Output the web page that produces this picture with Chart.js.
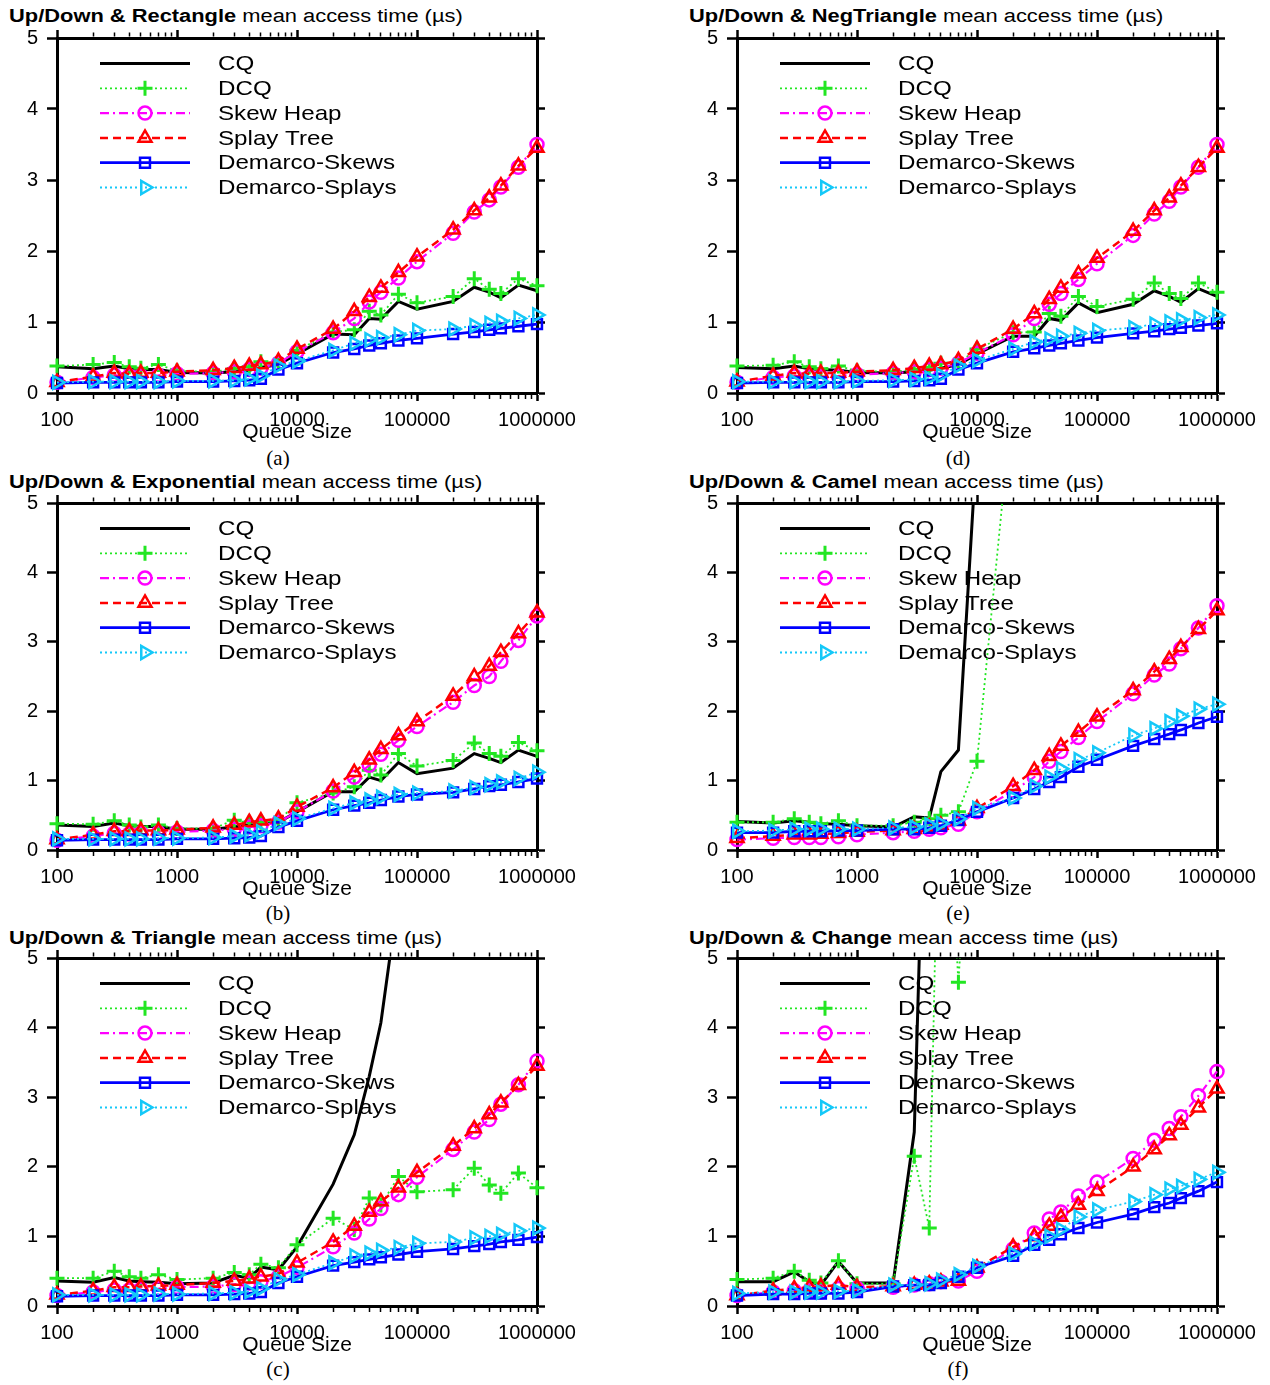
<!DOCTYPE html>
<html lang="en">
<head>
<meta charset="UTF-8">
<title>Up/Down mean access time</title>
<script src="https://cdn.jsdelivr.net/npm/chart.js@4"></script>
<style>
  body { margin: 0; background: #fff; width: 1270px; height: 1385px; position: relative; overflow: hidden; }
  .ttl { position: absolute; font: 18px "Liberation Sans", Arial, sans-serif; line-height: 20px; white-space: nowrap; color: #000;
         transform: scaleX(1.215); transform-origin: left center; }
  .cap { position: absolute; width: 60px; text-align: center; font: 21px "Liberation Serif", "Times New Roman", serif; line-height: 22px; color: #000; }
  canvas { position: absolute; }
</style>
</head>
<body>
<script>
// queue sizes and decade labels
const sizes = [100, 200, 300, 400, 500, 700, 1000, 2000, 3000, 4000, 5000, 7000, 10000, 20000, 30000, 40000, 50000, 70000,
               100000, 200000, 300000, 400000, 500000, 700000, 1000000];
const decades = [100, 1000, 10000, 100000, 1000000];
const yTicks = [0, 1, 2, 3, 4, 5];

// (a) Rectangle
const rectCQ      = [0.37,0.34,0.38,0.34,0.33,0.33,0.29,0.28,0.30,0.32,0.36,0.40,0.55,0.83,0.82,1.05,1.04,1.29,1.18,1.29,1.49,1.42,1.34,1.52,1.44];
const rectDCQ     = [0.38,0.40,0.43,0.37,0.35,0.40,0.31,0.30,0.34,0.37,0.44,0.42,0.60,0.86,0.89,1.15,1.10,1.39,1.27,1.36,1.61,1.46,1.40,1.61,1.51];
const rectSkew    = [0.15,0.22,0.25,0.24,0.24,0.25,0.27,0.28,0.30,0.33,0.35,0.42,0.58,0.85,1.05,1.28,1.42,1.62,1.85,2.25,2.55,2.72,2.90,3.18,3.50];
const rectSplay   = [0.15,0.23,0.28,0.27,0.28,0.28,0.30,0.32,0.35,0.38,0.40,0.45,0.62,0.90,1.15,1.35,1.48,1.70,1.92,2.30,2.57,2.75,2.92,3.20,3.45];
const rectDSkews  = [0.14,0.15,0.15,0.15,0.15,0.15,0.16,0.16,0.17,0.18,0.20,0.33,0.42,0.57,0.62,0.67,0.70,0.74,0.77,0.83,0.86,0.89,0.91,0.94,0.97];
const rectDSplays = [0.15,0.16,0.16,0.16,0.16,0.16,0.17,0.17,0.18,0.20,0.24,0.38,0.45,0.60,0.70,0.75,0.78,0.82,0.88,0.90,0.95,0.98,1.01,1.05,1.10];

// (d) NegTriangle
const negCQ      = [0.36,0.34,0.38,0.34,0.33,0.32,0.29,0.28,0.30,0.32,0.35,0.40,0.55,0.80,0.80,1.05,1.02,1.27,1.13,1.25,1.44,1.36,1.28,1.47,1.36];
const negDCQ     = [0.38,0.39,0.44,0.37,0.34,0.38,0.31,0.30,0.33,0.36,0.42,0.42,0.62,0.85,0.86,1.12,1.08,1.36,1.22,1.32,1.55,1.40,1.33,1.55,1.42];
const negSkew    = [0.15,0.22,0.24,0.23,0.23,0.24,0.26,0.28,0.30,0.33,0.35,0.42,0.56,0.82,1.05,1.25,1.40,1.60,1.82,2.22,2.52,2.70,2.90,3.18,3.50];
const negSplay   = [0.16,0.24,0.28,0.27,0.28,0.28,0.30,0.32,0.35,0.38,0.40,0.46,0.62,0.90,1.12,1.32,1.48,1.68,1.90,2.28,2.57,2.75,2.92,3.18,3.45];
const negDSkews  = [0.14,0.15,0.15,0.15,0.15,0.15,0.16,0.16,0.17,0.18,0.20,0.33,0.42,0.58,0.63,0.67,0.70,0.74,0.78,0.84,0.87,0.90,0.92,0.95,0.98];
const negDSplays = [0.16,0.16,0.16,0.16,0.16,0.16,0.17,0.18,0.19,0.21,0.25,0.38,0.46,0.62,0.72,0.76,0.80,0.84,0.88,0.92,0.97,1.00,1.03,1.06,1.10];

// (b) Exponential
const expCQ      = [0.36,0.34,0.39,0.35,0.34,0.34,0.30,0.30,0.33,0.36,0.38,0.40,0.55,0.84,0.84,1.05,1.00,1.26,1.10,1.18,1.39,1.32,1.26,1.44,1.35];
const expDCQ     = [0.38,0.37,0.42,0.36,0.33,0.36,0.31,0.31,0.43,0.40,0.40,0.42,0.68,0.82,0.91,1.15,1.08,1.39,1.21,1.29,1.54,1.39,1.35,1.55,1.43];
const expSkew    = [0.14,0.20,0.24,0.23,0.24,0.25,0.26,0.28,0.30,0.33,0.35,0.40,0.55,0.85,1.05,1.22,1.38,1.58,1.78,2.13,2.37,2.50,2.72,3.02,3.37];
const expSplay   = [0.15,0.22,0.27,0.27,0.28,0.28,0.29,0.32,0.36,0.40,0.42,0.45,0.62,0.90,1.12,1.30,1.45,1.65,1.85,2.22,2.50,2.65,2.85,3.12,3.42];
const expDSkews  = [0.14,0.15,0.15,0.15,0.15,0.15,0.16,0.16,0.17,0.18,0.20,0.33,0.42,0.58,0.64,0.68,0.72,0.77,0.80,0.83,0.88,0.92,0.94,0.98,1.03];
const expDSplays = [0.16,0.16,0.16,0.16,0.16,0.17,0.17,0.18,0.20,0.22,0.26,0.38,0.45,0.60,0.68,0.72,0.76,0.80,0.82,0.85,0.90,0.94,0.98,1.03,1.12];

// (e) Camel
const camCQ      = [0.41,0.39,0.42,0.40,0.38,0.37,0.35,0.33,0.48,0.46,1.13,1.44,5.90,15.0,20.0,25.0,30.0,35.0,40.0,45.0,50.0,55.0,60.0,65.0,70.0];
const camDCQ     = [0.40,0.40,0.45,0.40,0.38,0.42,0.35,0.35,0.40,0.45,0.50,0.55,1.28,6.60,12.0,15.0,18.0,21.0,24.0,28.0,32.0,36.0,40.0,44.0,48.0];
const camSkew    = [0.15,0.17,0.18,0.18,0.18,0.19,0.22,0.25,0.27,0.30,0.32,0.37,0.55,0.85,1.05,1.28,1.42,1.62,1.85,2.25,2.52,2.68,2.90,3.20,3.52];
const camSplay   = [0.17,0.20,0.22,0.22,0.23,0.24,0.26,0.28,0.30,0.33,0.36,0.42,0.60,0.92,1.15,1.35,1.50,1.70,1.92,2.30,2.57,2.75,2.92,3.18,3.45];
const camDSkews  = [0.25,0.25,0.27,0.27,0.27,0.28,0.28,0.30,0.30,0.32,0.35,0.43,0.55,0.75,0.88,0.98,1.05,1.20,1.30,1.50,1.60,1.67,1.73,1.83,1.92];
const camDSplays = [0.27,0.28,0.30,0.30,0.30,0.30,0.30,0.32,0.33,0.36,0.38,0.45,0.60,0.75,0.92,1.05,1.17,1.30,1.40,1.65,1.75,1.85,1.93,2.03,2.10];

// (c) Triangle
const triCQ      = [0.36,0.34,0.41,0.36,0.35,0.34,0.32,0.33,0.44,0.40,0.56,0.52,0.85,1.75,2.46,3.30,4.07,5.90,9.00,14.0,18.0,22.0,26.0,32.0,40.0];
const triDCQ     = [0.40,0.40,0.50,0.42,0.40,0.45,0.38,0.40,0.48,0.45,0.60,0.55,0.88,1.26,1.10,1.55,1.45,1.86,1.64,1.67,1.98,1.74,1.62,1.91,1.70];
const triSkew    = [0.15,0.20,0.23,0.23,0.24,0.25,0.27,0.28,0.31,0.33,0.35,0.42,0.55,0.85,1.05,1.25,1.40,1.60,1.85,2.25,2.50,2.68,2.90,3.18,3.52];
const triSplay   = [0.16,0.22,0.27,0.27,0.28,0.29,0.30,0.33,0.36,0.39,0.42,0.46,0.62,0.92,1.15,1.35,1.50,1.70,1.92,2.30,2.55,2.75,2.92,3.17,3.45];
const triDSkews  = [0.14,0.15,0.15,0.15,0.15,0.15,0.16,0.16,0.17,0.18,0.20,0.33,0.42,0.58,0.63,0.67,0.70,0.74,0.78,0.82,0.86,0.89,0.92,0.95,0.99];
const triDSplays = [0.16,0.16,0.16,0.16,0.16,0.17,0.17,0.18,0.19,0.21,0.25,0.38,0.45,0.62,0.72,0.76,0.80,0.84,0.90,0.92,0.98,1.00,1.03,1.08,1.12];

// (f) Change
const chgCQ      = [0.35,0.35,0.49,0.35,0.30,0.64,0.33,0.33,2.50,10.0,15.0,20.0,25.0,30.0,35.0,40.0,45.0,50.0,55.0,60.0,65.0,70.0,75.0,80.0,85.0];
const chgDCQ     = [0.38,0.40,0.50,0.37,0.33,0.65,0.32,0.32,2.15,1.12,9.00,4.65,9.00,14.0,18.0,22.0,26.0,30.0,34.0,38.0,42.0,46.0,50.0,54.0,58.0];
const chgSkew    = [0.15,0.20,0.22,0.22,0.20,0.25,0.25,0.27,0.30,0.32,0.35,0.36,0.50,0.82,1.05,1.25,1.35,1.58,1.78,2.12,2.38,2.55,2.72,3.02,3.37];
const chgSplay   = [0.15,0.22,0.25,0.27,0.28,0.30,0.27,0.28,0.30,0.32,0.35,0.36,0.55,0.85,1.00,1.15,1.28,1.45,1.65,2.00,2.25,2.45,2.60,2.85,3.12];
const chgDSkews  = [0.15,0.17,0.17,0.18,0.18,0.18,0.20,0.28,0.30,0.30,0.33,0.42,0.55,0.72,0.88,0.95,1.03,1.12,1.20,1.32,1.42,1.48,1.55,1.65,1.78];
const chgDSplays = [0.18,0.20,0.20,0.20,0.20,0.21,0.22,0.30,0.30,0.32,0.37,0.45,0.57,0.75,0.90,1.00,1.10,1.28,1.38,1.50,1.60,1.68,1.72,1.82,1.92];

const panels = [
  { tag: '(a)', name: 'Rectangle',   col: 0, row: 0, series: [rectCQ, rectDCQ, rectSkew, rectSplay, rectDSkews, rectDSplays] },
  { tag: '(d)', name: 'NegTriangle', col: 1, row: 0, series: [negCQ, negDCQ, negSkew, negSplay, negDSkews, negDSplays] },
  { tag: '(b)', name: 'Exponential', col: 0, row: 1, series: [expCQ, expDCQ, expSkew, expSplay, expDSkews, expDSplays] },
  { tag: '(e)', name: 'Camel',       col: 1, row: 1, series: [camCQ, camDCQ, camSkew, camSplay, camDSkews, camDSplays] },
  { tag: '(c)', name: 'Triangle',    col: 0, row: 2, series: [triCQ, triDCQ, triSkew, triSplay, triDSkews, triDSplays] },
  { tag: '(f)', name: 'Change',      col: 1, row: 2, series: [chgCQ, chgDCQ, chgSkew, chgSplay, chgDSkews, chgDSplays] },
];

// line / marker look of each queue
const styles = [
  { label: 'CQ',             borderColor: '#000000', borderWidth: 3,   pointRadius: 0 },
  { label: 'DCQ',            borderColor: '#22e622', borderWidth: 1.8, borderDash: [2, 3], pointStyle: 'cross', pointRadius: 7.5, pointBorderWidth: 3 },
  { label: 'Skew Heap',      borderColor: '#ff00ff', borderWidth: 2.2, borderDash: [9, 4, 2, 4], pointStyle: 'circle', pointRadius: 6.5, pointBorderWidth: 2.5 },
  { label: 'Splay Tree',     borderColor: '#ff0000', borderWidth: 2.5, borderDash: [8, 5], pointStyle: 'triangle', pointRadius: 7.5, pointBorderWidth: 2.5 },
  { label: 'Demarco-Skews',  borderColor: '#0000ff', borderWidth: 2.8, pointStyle: 'rect', pointRadius: 7, pointBorderWidth: 2.5 },
  { label: 'Demarco-Splays', borderColor: '#14c8f8', borderWidth: 1.8, borderDash: [2, 3], pointStyle: 'triangle', pointRotation: 90, pointRadius: 7.5, pointBorderWidth: 2.5 },
];

// geometry of the 2x3 grid
const colPlotLeft = [57, 737];
const colTitleLeft = [9, 689];
const colCaption = [278, 958];
const rowGeom = [
  { top: 38,  bottom: 393,  title: 16,  cap: 458 },
  { top: 503, bottom: 850,  title: 482, cap: 913 },
  { top: 958, bottom: 1306, title: 938, cap: 1369 },
];
const TOP_H = 24, BOTTOM_H = 50, LEFT_W = 57, RIGHT_W = 50, PLOT_W = 480;

// x ticks: every 1..9 step inside each decade
const xTicks = [];
decades.slice(0, -1).forEach(d => { for (let m = 1; m < 10; m++) xTicks.push(d * m); });
xTicks.push(decades[decades.length - 1]);
const isDecade = v => decades.includes(v);

const FONT = '"Liberation Sans", Arial, sans-serif';

// legend drawn inside the plot like gnuplot does: line + marker + text
const lineLegend = {
  id: 'lineLegend',
  beforeDatasetsDraw(chart) {
    const { ctx, chartArea: a } = chart;
    chart.data.datasets.forEach((ds, i) => {
      const y = a.top + 25.5 + i * 24.8;
      ctx.save();
      ctx.strokeStyle = ds.borderColor;
      ctx.lineWidth = ds.borderWidth;
      ctx.setLineDash(ds.borderDash || []);
      ctx.beginPath();
      ctx.moveTo(a.left + 43, y);
      ctx.lineTo(a.left + 133, y);
      ctx.stroke();
      ctx.setLineDash([]);
      if (ds.pointRadius > 0 && Chart.helpers && Chart.helpers.drawPoint) {
        ctx.lineWidth = ds.pointBorderWidth;
        ctx.fillStyle = 'rgba(0,0,0,0)';
        Chart.helpers.drawPoint(ctx, {
          pointStyle: ds.pointStyle, rotation: ds.pointRotation || 0,
          radius: ds.pointRadius, borderWidth: ds.pointBorderWidth
        }, a.left + 88, y);
      }
      ctx.fillStyle = '#000';
      ctx.font = '21px ' + FONT;
      ctx.textBaseline = 'middle';
      ctx.translate(a.left + 161, y);
      ctx.scale(1.15, 1);
      ctx.fillText(ds.label, 0, 1);
      ctx.restore();
    });
  }
};

function xAxis(position) {
  const bottom = position === 'bottom';
  return {
    type: 'logarithmic', position, min: 100, max: 1000000,
    afterBuildTicks: s => { s.ticks = xTicks.map(v => ({ value: v, major: isDecade(v) })); },
    afterFit: s => { s.height = bottom ? BOTTOM_H : TOP_H; },
    ticks: {
      display: bottom, autoSkip: false, maxRotation: 0, minRotation: 0, padding: 7, color: '#000',
      font: { family: FONT, size: 20 },
      callback: v => isDecade(v) ? String(v) : ''
    },
    grid: {
      drawOnChartArea: false, drawTicks: true, tickLength: 8, tickColor: '#000',
      tickWidth: c => (c.tick && isDecade(c.tick.value)) ? 2.5 : 1.5,
      // minor ticks are half length, kept next to the frame
      tickBorderDash: c => (c.tick && isDecade(c.tick.value)) ? [] : (bottom ? [4, 40] : [0, 2.5, 4, 40])
    },
    border: { display: true, color: '#000', width: 3 },
    title: {
      display: bottom, text: 'Queue Size', color: '#000', padding: 0,
      font: { family: FONT, size: 21, lineHeight: 1 }
    }
  };
}

function yAxis(position) {
  const left = position === 'left';
  return {
    type: 'linear', position, min: yTicks[0], max: yTicks[yTicks.length - 1],
    afterFit: s => { s.width = left ? LEFT_W : RIGHT_W; },
    ticks: { display: left, stepSize: 1, padding: 9, color: '#000', font: { family: FONT, size: 20 } },
    grid: { drawOnChartArea: false, drawTicks: true, tickLength: left ? 10 : 8, tickColor: '#000', tickWidth: 2.5 },
    border: { display: true, color: '#000', width: 3 }
  };
}

panels.forEach(p => {
  const g = rowGeom[p.row];

  const title = document.createElement('div');
  title.className = 'ttl';
  title.style.left = colTitleLeft[p.col] + 'px';
  title.style.top = (g.title - 10) + 'px';
  title.innerHTML = '<b>Up/Down &amp; ' + p.name + '</b> mean access time (\u00b5s)';
  document.body.appendChild(title);

  const cap = document.createElement('div');
  cap.className = 'cap';
  cap.style.left = (colCaption[p.col] - 30) + 'px';
  cap.style.top = (g.cap - 11) + 'px';
  cap.textContent = p.tag;
  document.body.appendChild(cap);

  const canvas = document.createElement('canvas');
  canvas.width = LEFT_W + PLOT_W + RIGHT_W;
  canvas.height = TOP_H + (g.bottom - g.top) + BOTTOM_H;
  canvas.style.left = (colPlotLeft[p.col] - LEFT_W) + 'px';
  canvas.style.top = (g.top - TOP_H) + 'px';
  document.body.appendChild(canvas);

  const datasets = p.series.map((vals, i) => ({
    ...styles[i],
    data: sizes.map((x, k) => ({ x, y: vals[k] })),
    pointBackgroundColor: 'rgba(0,0,0,0)',
    pointBorderColor: styles[i].borderColor,
    fill: false,
    tension: 0,
    xAxisID: 'x', yAxisID: 'y',
    clip: { left: 12, right: 12, top: 0, bottom: 12 },
    order: styles.length - 1 - i   // later series drawn on top, as in gnuplot
  }));

  new Chart(canvas, {
    type: 'line',
    data: { datasets },
    options: {
      responsive: false,
      animation: false,
      events: [],
      layout: { padding: 0 },
      plugins: { legend: { display: false }, tooltip: { enabled: false } },
      scales: { x: xAxis('bottom'), x2: xAxis('top'), y: yAxis('left'), y2: yAxis('right') }
    },
    plugins: [lineLegend]
  });
});
</script>
</body>
</html>
